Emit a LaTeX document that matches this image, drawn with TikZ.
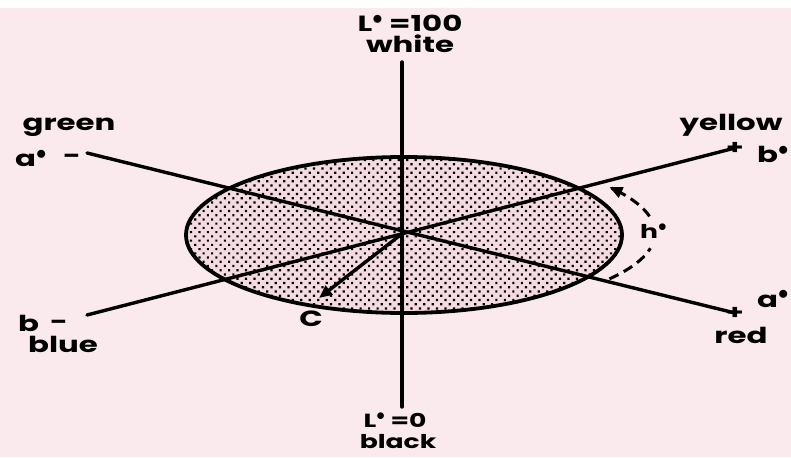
\documentclass[tikz,border=0pt]{standalone}
\usepackage{fontspec}
\setmainfont{Poppins}[FakeStretch=1.4]
\usetikzlibrary{patterns.meta,arrows.meta}
\definecolor{bgpink}{RGB}{250,234,237}
\definecolor{discbg}{RGB}{244,218,225}
\newcommand\sdot{\raisebox{0.33em}[0pt][0pt]{$\bullet$}}
\tikzset{
  axisline/.style={line width=3.4pt, line cap=round},
  disc/.style={line width=3.8pt, preaction={fill=discbg},
    pattern={Dots[distance=6pt,radius=1.55pt,angle=45]}, pattern color=black},
  lab/.style={font=\bfseries\fontsize{22}{24}\selectfont, inner sep=0pt, text=black},
  labsm/.style={font=\bfseries\fontsize{19}{20}\selectfont, inner sep=0pt, text=black},
  plusmark/.style={font=\bfseries\fontsize{20}{20}\selectfont, inner sep=0pt},
  hueline/.style={line width=3pt, dash pattern=on 10pt off 6pt},
  tip/.style={-{Triangle[length=13pt,width=11pt]}}
}
\begin{document}
\begin{tikzpicture}[x=1pt,y=-1pt]
\useasboundingbox (0,0) rectangle (791,457);
\fill[bgpink] (0,0) rectangle (791,457);
\fill[white] (0,0) rectangle (791,8);
% coordinates
\coordinate (O) at (403,233);
\coordinate (Ltop) at (402,62);
\coordinate (Lbot) at (402,407);
\coordinate (gEnd) at (87,153);
\coordinate (rEnd) at (735,313);
\coordinate (yEnd) at (735,148);
\coordinate (bEnd) at (87,315);
\coordinate (Cend) at (319,298);
% disc
\draw[disc] (404,235) ellipse [x radius=218, y radius=78];
% axes
\draw[axisline] (Ltop) -- (Lbot);
\draw[axisline] (gEnd) -- (rEnd);
\draw[axisline] (bEnd) -- (yEnd);
\draw[axisline, line cap=butt, tip] (O) -- (Cend);
% hue arc
\draw[hueline] plot[domain=35:11, samples=30] ({403+252*cos(\x)},{233+80*sin(\x)});
\draw[hueline, tip] plot[domain=-12:-35, samples=30] ({403+252*cos(\x)},{233+80*sin(\x)});
% plus marks
\node[plusmark] (py) at (yEnd) {+};
\node[plusmark] (pr) at (rEnd) {+};
% labels
\node[lab, anchor=base] (ltop) at (410,32) {L\sdot\ =100};
\node[lab, anchor=base] (white) at (410,53) {white};
\node[lab, anchor=base] (green) at (69,131) {green};
\node[lab, anchor=base west] (aneg) at (15,167) {a\sdot};
\node[lab] (aminus) at (72,159) {-};
\node[lab, anchor=base] (yellow) at (731,131) {yellow};
\node[lab, anchor=base west] (bpos) at (757,163) {b\sdot};
\node[lab, anchor=base west] (bneg) at (18,331) {b};
\node[lab] (bminus) at (59,325) {-};
\node[lab, anchor=base] (blue) at (63,352) {blue};
\node[lab, anchor=base west] (apos) at (757,307) {a\sdot};
\node[lab, anchor=base] (red) at (741,343) {red};
\node[labsm, anchor=base] (lbot) at (395,427) {L\sdot\ =0};
\node[labsm, anchor=base] (black) at (398,448) {black};
\node[labsm, anchor=base west] (hue) at (640,238) {h\sdot};
\node[lab, anchor=base] (chroma) at (311,326) {C};
\end{tikzpicture}
\end{document}
